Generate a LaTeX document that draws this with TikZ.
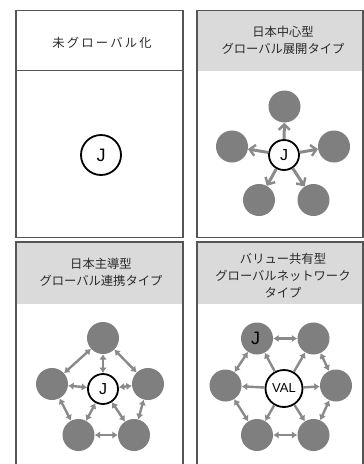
\documentclass[tikz,border=0pt]{standalone}
\usepackage{fontspec}
\setmainfont{Liberation Sans}
\newfontfamily\jp{Noto Sans CJK JP}
\newfontfamily\jpwide[LetterSpace=18]{Noto Sans CJK JP}
\usetikzlibrary{arrows.meta}
\definecolor{framegray}{HTML}{555555}
\definecolor{headgray}{HTML}{DADADA}
\definecolor{ballgray}{HTML}{7F7F7F}
\definecolor{linkgray}{HTML}{8A8A8A}
\definecolor{textgray}{HTML}{2A2A2A}
\tikzset{
  panel/.style={draw=framegray, line width=1.4pt},
  header/.style={fill=headgray},
  title/.style={font=\jp\fontsize{12.3}{17}\selectfont, text=textgray, align=center},
  ball/.style={circle, fill=ballgray, minimum size=32pt, inner sep=0pt},
  hub/.style={circle, draw=black, line width=1.8pt, fill=white, inner sep=0pt,
              minimum size=30pt, font=\fontsize{16}{16}\selectfont},
  outlink/.style={draw=linkgray, line width=3pt,
                  -{Straight Barb[length=5.5pt,width=11pt,line width=2.4pt]}},
  twolink/.style={draw=linkgray, line width=2.4pt,
                  {Latex[length=5.5pt,width=7.5pt]}-{Latex[length=5.5pt,width=7.5pt]}},
  onelink/.style={draw=linkgray, line width=2.4pt, -{Latex[length=5.5pt,width=7.5pt]}},
}
\begin{document}
\begin{tikzpicture}[x=1pt,y=-1pt]
\clip (0,0) rectangle (364,464);
\fill[white] (0,0) rectangle (364,464);

% --- panel frames and headers ---
\draw[panel] (16,10.5) rectangle (183,237.5);
\draw[panel] (16,70.5) -- (183,70.5);

\fill[header] (197,10.5) rectangle (363,70.5);
\draw[panel] (197,10.5) rectangle (363,237.5);

\fill[header] (16,242) rectangle (183,304);
\draw[panel] (16,242) rectangle (183,480);

\fill[header] (197,242) rectangle (363,304);
\draw[panel] (197,242) rectangle (363,480);

% --- titles ---
\node[title, font=\jpwide\fontsize{12.3}{17}\selectfont] (t1) at (102,43) {未グローバル化};
\node[title] (t2) at (283,40.5) {日本中心型\\グローバル展開タイプ};
\node[title] (t3) at (101,272.5) {日本主導型\\グローバル連携タイプ};
\node[title] (t4) at (283,275.5) {バリュー共有型\\グローバルネットワーク\\タイプ};

% --- panel 1: a single home node ---
\node[hub, minimum size=40pt, font=\fontsize{18}{18}\selectfont] (j1) at (101,155) {J};

% --- panel 2: hub with outgoing arrows ---
\node[ball] (a1) at (284.5,106.5) {};
\node[ball] (a2) at (232,146.5) {};
\node[ball] (a3) at (334,146.5) {};
\node[ball] (a4) at (259,200) {};
\node[ball] (a5) at (313.5,200) {};
\node[hub] (j2) at (284,155) {J};
\foreach \n in {a1,a2,a3,a4,a5}
  \draw[outlink] (j2) -- (\n);

% --- panel 3: hub plus ring of two-way links ---
\node[ball] (b1) at (103,338) {};
\node[ball] (b2) at (52,384) {};
\node[ball] (b3) at (148,384) {};
\node[ball] (b4) at (78.5,435) {};
\node[ball] (b5) at (134,435) {};
\node[hub] (j3) at (103,389) {J};
\foreach \n in {b1,b2,b3,b4,b5}
  \draw[twolink] (j3) -- (\n);
\draw[twolink] (b1) -- (b2);
\draw[twolink] (b1) -- (b3);
\draw[twolink] (b2) -- (b4);
\draw[twolink] (b3) -- (b5);
\draw[twolink] (b4) -- (b5);

% --- panel 4: shared value at the centre of a network ---
\node[ball, font=\fontsize{18}{18}\selectfont] (c1) at (257,338.5) {\hspace*{-3pt}J};
\node[ball] (c2) at (313.5,338.5) {};
\node[ball] (c3) at (225.5,385.5) {};
\node[ball] (c4) at (336,385.5) {};
\node[ball] (c5) at (257,435) {};
\node[ball] (c6) at (313.5,435) {};
\node[hub, minimum size=37pt, font=\fontsize{13}{13}\selectfont] (v) at (284,388.5) {VAL};
\foreach \n in {c1,c2,c3,c4,c5,c6}
  \draw[onelink] (v) -- (\n);
\draw[twolink] (c1) -- (c2);
\draw[twolink] (c2) -- (c4);
\draw[twolink] (c4) -- (c6);
\draw[twolink] (c6) -- (c5);
\draw[twolink] (c5) -- (c3);
\draw[twolink] (c3) -- (c1);
\end{tikzpicture}
\end{document}
